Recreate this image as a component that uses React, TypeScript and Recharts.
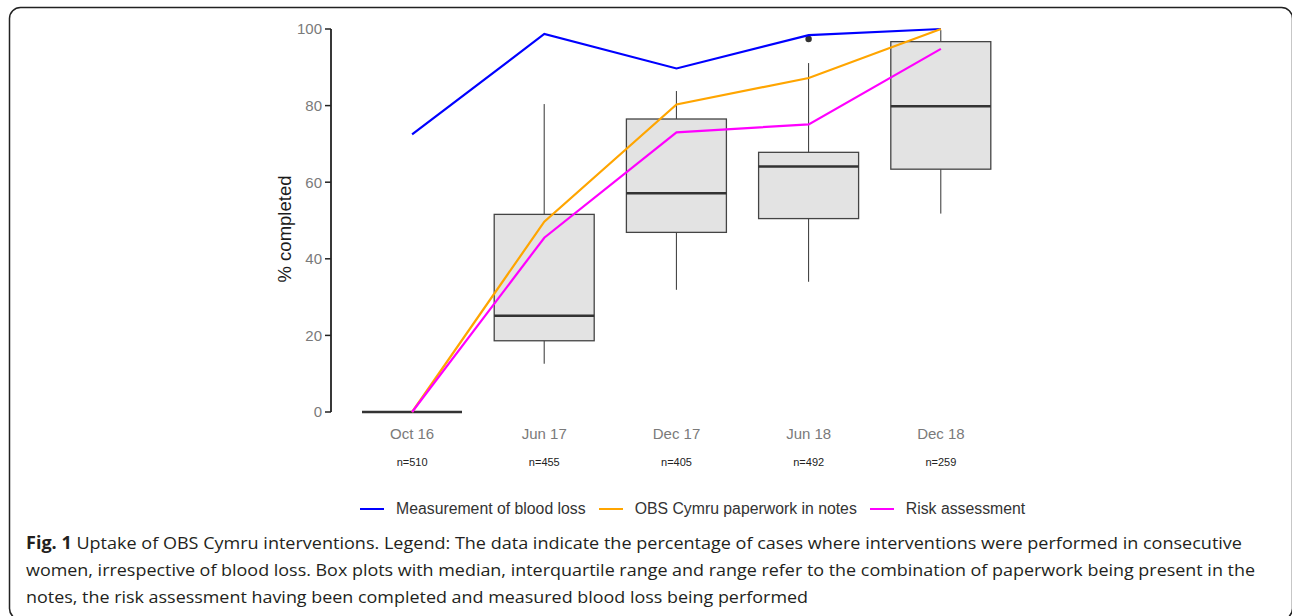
import React from 'react';
import { ComposedChart, Bar, Line, XAxis, YAxis, Legend } from 'recharts';

const periods = ['Oct 16', 'Jun 17', 'Dec 17', 'Jun 18', 'Dec 18'];
const sampleSizes = [510, 455, 405, 492, 259];

// % of cases per intervention
const bloodLoss = [72.5, 98.7, 89.7, 98.4, 100];
const paperwork = [0, 49.7, 80.3, 87.2, 100];
const riskAssessment = [0, 45.5, 73, 75.1, 94.8];

// combined-uptake box plots
const boxMin = [0, 12.6, 31.9, 34, 51.8];
const boxQ1 = [0, 18.6, 46.9, 50.5, 63.4];
const boxMedian = [0, 25.1, 57.1, 64.1, 79.8];
const boxQ3 = [0, 51.6, 76.5, 67.8, 96.7];
const boxMax = [0, 80.4, 83.8, 91.1, 99.7];
const boxOutliers: number[][] = [[], [], [], [97.4], []];

const yTicks = [0, 20, 40, 60, 80, 100];

const series = [
  { key: 'bloodLoss', name: 'Measurement of blood loss', color: '#0000ff' },
  { key: 'paperwork', name: 'OBS Cymru paperwork in notes', color: '#ffa500' },
  { key: 'riskAssessment', name: 'Risk assessment', color: '#ff00ff' },
];

const captionLines = [
  'Uptake of OBS Cymru interventions. Legend: The data indicate the percentage of cases where interventions were performed in consecutive',
  'women, irrespective of blood loss. Box plots with median, interquartile range and range refer to the combination of paperwork being present in the',
  'notes, the risk assessment having been completed and measured blood loss being performed',
];

const data = periods.map((period, i) => ({
  period,
  n: sampleSizes[i],
  bloodLoss: bloodLoss[i],
  paperwork: paperwork[i],
  riskAssessment: riskAssessment[i],
  min: boxMin[i],
  q1: boxQ1[i],
  median: boxMedian[i],
  q3: boxQ3[i],
  max: boxMax[i],
  outliers: boxOutliers[i],
}));

const FONT = '"Liberation Sans", Arial, sans-serif';

// The bar spans min..max; every other box value is placed on the same pixel scale.
const BoxShape = (props: any) => {
  const { x, y, width, height, payload } = props;
  const span = payload.max - payload.min;
  const toY = (v: number) => (span > 0 ? y + (height * (payload.max - v)) / span : y);
  const cx = x + width / 2;
  if (span === 0) {
    return <line x1={x} x2={x + width} y1={y} y2={y} stroke="#333" strokeWidth={2.5} />;
  }
  return (
    <g>
      <line x1={cx} x2={cx} y1={toY(payload.max)} y2={toY(payload.q3)} stroke="#333" strokeWidth={1} />
      <line x1={cx} x2={cx} y1={toY(payload.q1)} y2={toY(payload.min)} stroke="#333" strokeWidth={1} />
      <rect
        x={x}
        y={toY(payload.q3)}
        width={width}
        height={toY(payload.q1) - toY(payload.q3)}
        fill="#e3e3e3"
        stroke="#444"
        strokeWidth={1.3}
      />
      <line x1={x} x2={x + width} y1={toY(payload.median)} y2={toY(payload.median)} stroke="#333" strokeWidth={2.5} />
      {payload.outliers.map((v: number, i: number) => (
        <circle key={i} cx={cx} cy={toY(v)} r={3.2} fill="#333" />
      ))}
    </g>
  );
};

const PeriodTick = (props: any) => {
  const { x, y, payload, index } = props;
  return (
    <g>
      <text x={x} y={y + 27} textAnchor="middle" fontSize={15} fill="#7a7a7a" fontFamily={FONT}>
        {payload.value}
      </text>
      <text x={x} y={y + 54} textAnchor="middle" fontSize={11} fill="#222" fontFamily={FONT}>
        {`n=${sampleSizes[index]}`}
      </text>
    </g>
  );
};

const YTitle = (props: any) => {
  const { viewBox } = props;
  const cx = viewBox.x + 284;
  const cy = 229;
  return (
    <text
      x={cx}
      y={cy}
      transform={`rotate(-90 ${cx} ${cy})`}
      textAnchor="middle"
      dominantBaseline="central"
      fontSize={18.5}
      fill="#1a1a1a"
      fontFamily={FONT}
    >
      % completed
    </text>
  );
};

const LegendRow = () => (
  <div
    style={{
      display: 'flex',
      alignItems: 'center',
      height: 24,
      paddingLeft: 360,
      fontFamily: FONT,
      fontSize: 15.8,
      color: '#333',
    }}
  >
    {series.map((s) => (
      <div key={s.key} style={{ display: 'flex', alignItems: 'center', marginRight: 13 }}>
        <div style={{ width: 24, height: 2.5, background: s.color, marginRight: 12 }} />
        <span style={{ whiteSpace: 'nowrap' }}>{s.name}</span>
      </div>
    ))}
  </div>
);

export default function App() {
  return (
    <div style={{ position: 'absolute', left: 0, top: 0, width: 1292, height: 616, background: '#fff', overflow: 'hidden' }}>
      <ComposedChart width={1292} height={531} data={data} margin={{ top: 29, right: 272, bottom: 10, left: 0 }}>
        <XAxis
          dataKey="period"
          axisLine={false}
          tickLine={false}
          tickSize={0}
          tickMargin={0}
          height={85}
          padding={{ left: 15, right: 13 }}
          tick={<PeriodTick />}
          interval={0}
        />
        <YAxis
          domain={[0, 100]}
          ticks={yTicks}
          width={331}
          stroke="#222"
          axisLine={{ stroke: '#222', strokeWidth: 1.8 }}
          tickLine={{ stroke: '#222', strokeWidth: 1.5 }}
          tickSize={6}
          tickMargin={3}
          tick={{ fill: '#7a7a7a', fontSize: 15, fontFamily: FONT }}
          label={<YTitle />}
        />
        <Legend verticalAlign="bottom" height={24} content={<LegendRow />} />
        <Bar
          dataKey={(d: any) => [d.min, d.max]}
          barSize={100}
          shape={<BoxShape />}
          isAnimationActive={false}
          legendType="none"
        />
        {series.map((s) => (
          <Line
            key={s.key}
            type="linear"
            dataKey={s.key}
            name={s.name}
            stroke={s.color}
            strokeWidth={2.2}
            dot={false}
            activeDot={false}
            isAnimationActive={false}
          />
        ))}
      </ComposedChart>
      <svg width={1292} height={616} style={{ position: 'absolute', left: 0, top: 0, pointerEvents: 'none' }}>
        <rect x={9.5} y={7.5} width={1283} height={612} rx={11} fill="none" stroke="#222" strokeWidth={1.5} />
        <text x={26} y={549} fontSize={17} fill="#231f20" fontFamily='"Open Sans", sans-serif' textLength={1216} lengthAdjust="spacingAndGlyphs">
          <tspan fontWeight="bold">Fig. 1</tspan> {captionLines[0]}
        </text>
        <text x={26} y={576} fontSize={17} fill="#231f20" fontFamily='"Open Sans", sans-serif' textLength={1229} lengthAdjust="spacingAndGlyphs">
          {captionLines[1]}
        </text>
        <text x={26} y={603} fontSize={17} fill="#231f20" fontFamily='"Open Sans", sans-serif' textLength={782} lengthAdjust="spacingAndGlyphs">
          {captionLines[2]}
        </text>
      </svg>
    </div>
  );
}
